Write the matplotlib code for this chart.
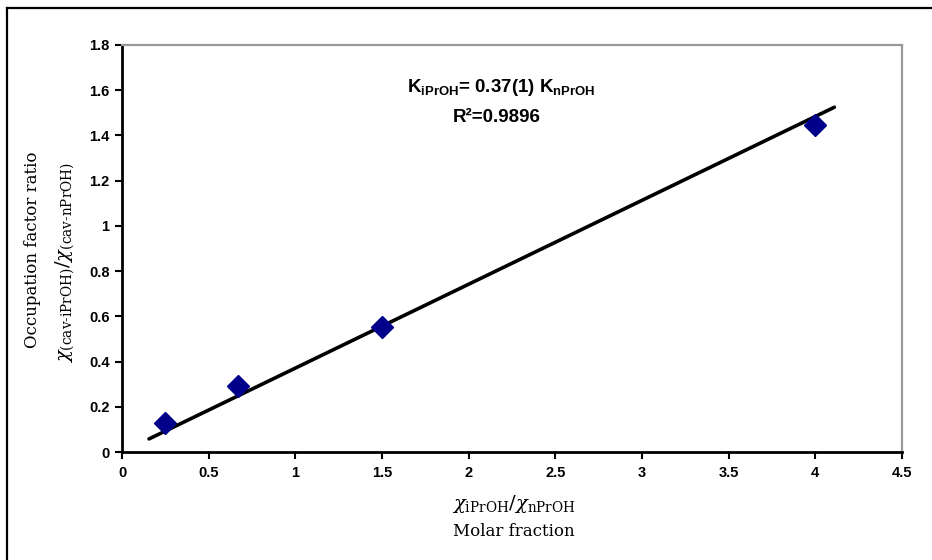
import matplotlib
matplotlib.use("Agg")
import matplotlib.pyplot as plt
from matplotlib.lines import Line2D
import numpy as np

# data
ratio_x = [0.25, 0.667, 1.5, 4.0]
occupation_y = [0.13, 0.292, 0.553, 1.446]
fit_slope = 0.371
fit_intercept = 0.0
fit_x_range = [0.156, 4.11]
x_ticks = [0, 0.5, 1, 1.5, 2, 2.5, 3, 3.5, 4, 4.5]
x_tick_labels = ["0", "0.5", "1", "1.5", "2", "2.5", "3", "3.5", "4", "4.5"]
y_ticks = [0, 0.2, 0.4, 0.6, 0.8, 1.0, 1.2, 1.4, 1.6, 1.8]
y_tick_labels = ["0", "0.2", "0.4", "0.6", "0.8", "1", "1.2", "1.4", "1.6", "1.8"]

plt.rcParams['mathtext.fontset'] = 'dejavuserif'

fig = plt.figure(figsize=(9.32, 5.60), dpi=100)
ax = fig.add_axes([122/932, 1-452/560, (902-122)/932, (452-45)/560])

fx = np.array(fit_x_range)
ax.plot(fx, fit_slope*fx + fit_intercept, color='black', lw=2.6, solid_capstyle='round', zorder=2)
ax.plot(ratio_x, occupation_y, linestyle='none', marker='D', markersize=11.5,
        color='#00008B', markeredgecolor='#00008B', zorder=3)

ax.set_xlim(0, 4.5)
ax.set_ylim(0, 1.8)
ax.set_xticks(x_ticks)
ax.set_xticklabels(x_tick_labels)
ax.set_yticks(y_ticks)
ax.set_yticklabels(y_tick_labels)
for lab in ax.get_xticklabels() + ax.get_yticklabels():
    lab.set_fontfamily('Liberation Sans')
    lab.set_fontweight('bold')
    lab.set_fontsize(10.5)
ax.tick_params(direction='out', length=5, width=1.5, color='black', pad=4)
ax.tick_params(axis='x', pad=5)

for s in ['left', 'bottom']:
    ax.spines[s].set_color('black')
    ax.spines[s].set_linewidth(2)
for s in ['top', 'right']:
    ax.spines[s].set_color('#999999')
    ax.spines[s].set_linewidth(1.6)

ax.text(2.19, 1.61, r"K$_{\mathregular{iPrOH}}$= 0.37(1) K$_{\mathregular{nPrOH}}$",
        ha='center', va='center', fontsize=13.5, family='Liberation Sans', fontweight='bold')
ax.text(2.16, 1.48, "R²=0.9896", ha='center', va='center', fontsize=13.5,
        family='Liberation Sans', fontweight='bold')

# axis labels
fig.text(514/932, 1-504/560, r"$\chi_{\mathrm{iPrOH}}/\chi_{\mathrm{nPrOH}}$",
         ha='center', va='center', fontsize=14)
fig.text(514/932, 1-532/560, "Molar fraction", ha='center', va='center',
         fontsize=12, family='DejaVu Serif')
fig.text(33/932, 1-250/560, "Occupation factor ratio", ha='center', va='center',
         rotation=90, fontsize=12, family='DejaVu Serif')
fig.text(65/932, 1-262/560, r"$\chi_{(\mathrm{cav\text{-}iPrOH})}/\chi_{(\mathrm{cav\text{-}nPrOH})}$",
         ha='center', va='center', rotation=90, fontsize=14)

# outer border (top and left)
fig.add_artist(Line2D([7/932, 7/932], [0, 1-8/560], transform=fig.transFigure, color='black', lw=1.6))
fig.add_artist(Line2D([7/932, 1], [1-8/560, 1-8/560], transform=fig.transFigure, color='black', lw=1.6))

fig.savefig("out.png", dpi=100)
